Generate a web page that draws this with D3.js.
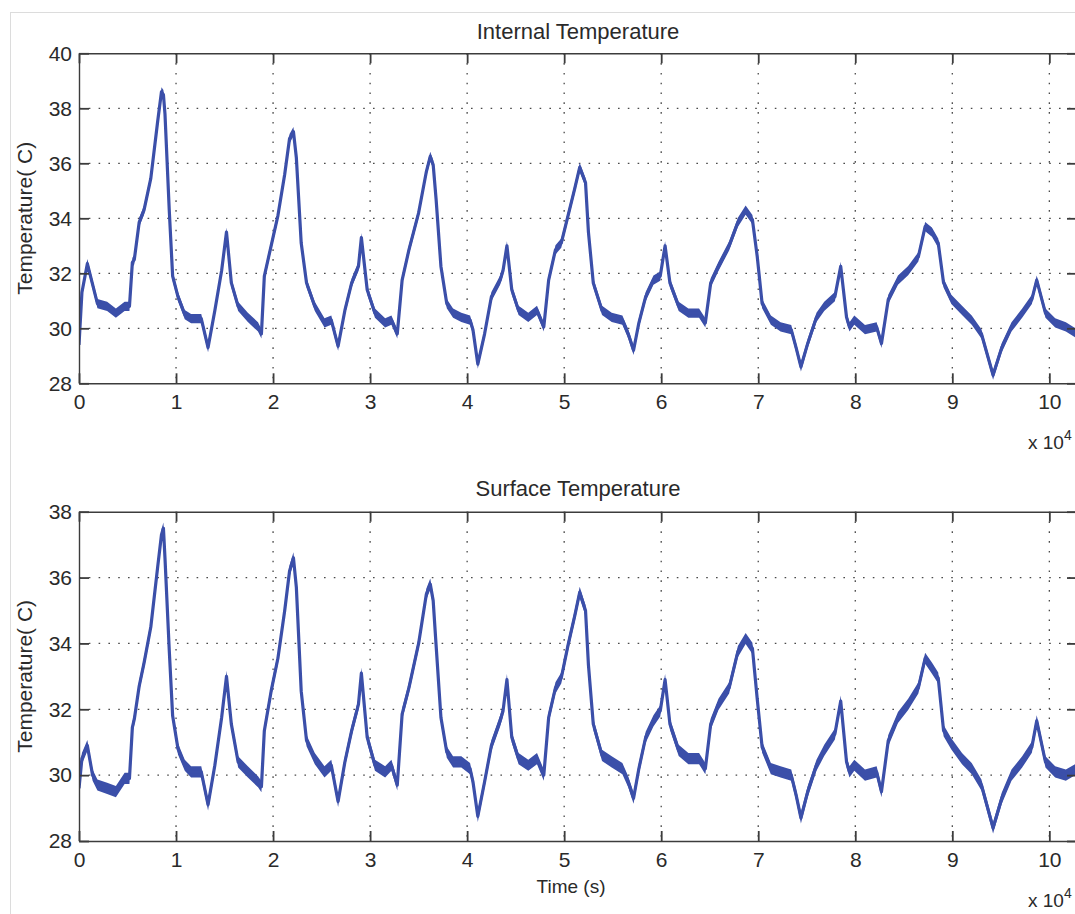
<!DOCTYPE html>
<html>
<head>
<meta charset="utf-8">
<script src="https://cdn.jsdelivr.net/npm/d3@7"></script>
<style>
  html, body { margin: 0; padding: 0; background: #fff; }
  svg { display: block; }
  text { font-family: "Liberation Sans", Arial, Helvetica, sans-serif; fill: #2a2a2a; }
</style>
</head>
<body>
<svg id="chart" width="1075" height="914"></svg>
<script>
// ---------------- DATA (time in units of 10^4 s, temperature in °C) ----------------
const time = [0.00,0.03,0.086,0.14,0.19,0.29,0.38,0.47,0.52,0.55,0.57,0.62,0.67,0.74,0.81,0.85,0.87,0.886,0.93,0.965,
  1.02,1.09,1.155,1.26,1.33,1.40,1.47,1.52,1.57,1.64,1.74,1.845,1.88,1.91,1.98,2.05,2.12,2.17,2.21,2.24,
  2.29,2.345,2.43,2.53,2.60,2.67,2.74,2.81,2.88,2.91,2.97,3.05,3.155,3.22,3.28,3.33,3.40,3.50,3.58,3.62,
  3.65,3.68,3.73,3.79,3.855,3.94,4.03,4.06,4.11,4.18,4.25,4.34,4.37,4.41,4.46,4.53,4.63,4.72,4.79,4.84,
  4.91,4.97,5.04,5.11,5.16,5.22,5.25,5.30,5.39,5.49,5.60,5.66,5.715,5.77,5.84,5.92,5.99,6.04,6.09,6.18,
  6.28,6.39,6.455,6.51,6.59,6.70,6.79,6.87,6.94,6.99,7.04,7.13,7.23,7.34,7.39,7.44,7.51,7.60,7.68,7.79,
  7.85,7.91,7.94,7.99,8.10,8.22,8.27,8.34,8.44,8.545,8.65,8.72,8.79,8.855,8.91,8.99,9.10,9.20,9.30,9.42,
  9.51,9.61,9.72,9.82,9.87,9.96,10.06,10.17,10.285];

const internalTemp = [29.4,31.3,32.35,31.6,30.9,30.8,30.55,30.8,30.8,32.4,32.5,33.85,34.3,35.45,37.5,38.6,38.5,37.8,34.3,31.9,
  31.15,30.5,30.35,30.35,29.3,30.65,32.1,33.5,31.65,30.8,30.4,30.05,29.8,31.9,33.0,34.1,35.6,36.9,37.15,36.2,
  33.1,31.65,30.8,30.2,30.3,29.35,30.65,31.65,32.25,33.3,31.4,30.55,30.2,30.3,29.8,31.75,32.85,34.2,35.7,36.25,
  35.95,34.7,32.25,30.9,30.55,30.4,30.3,29.95,28.7,29.8,31.15,31.75,32.1,33.0,31.4,30.65,30.4,30.65,30.05,31.75,
  32.85,33.1,34.1,35.1,35.85,35.3,33.5,31.65,30.65,30.4,30.3,29.8,29.2,30.2,31.15,31.75,31.9,33.0,31.65,30.8,
  30.55,30.55,30.2,31.65,32.25,33.0,33.85,34.3,33.95,32.6,30.9,30.3,30.05,29.95,29.3,28.6,29.45,30.4,30.8,31.15,
  32.25,30.4,30.05,30.3,29.95,30.05,29.45,31.05,31.75,32.1,32.6,33.7,33.5,33.1,31.65,31.05,30.65,30.3,29.8,28.3,
  29.3,30.05,30.55,31.05,31.75,30.55,30.2,30.05,29.8];

const surfaceTemp = [29.6,30.5,30.9,30.0,29.7,29.6,29.5,29.9,29.9,31.45,31.7,32.7,33.4,34.5,36.3,37.3,37.5,36.6,33.8,31.8,
  30.8,30.3,30.1,30.1,29.1,30.3,31.75,33.0,31.55,30.4,30.1,29.8,29.65,31.35,32.55,33.55,35.0,36.2,36.6,35.7,
  32.55,31.05,30.5,30.1,30.3,29.2,30.4,31.35,32.15,33.1,31.15,30.3,30.1,30.3,29.7,31.85,32.65,34.0,35.5,35.8,
  35.3,33.95,31.75,30.7,30.4,30.4,30.2,29.8,28.75,29.8,30.9,31.65,31.95,32.9,31.15,30.5,30.3,30.5,30.0,31.75,
  32.65,32.95,33.95,34.85,35.55,35.0,33.35,31.55,30.6,30.4,30.2,29.8,29.3,30.2,31.15,31.65,31.95,32.9,31.55,30.75,
  30.5,30.5,30.2,31.55,32.15,32.65,33.75,34.15,33.85,32.3,30.85,30.2,30.1,30.0,29.4,28.7,29.5,30.3,30.75,31.25,
  32.25,30.4,30.1,30.3,30.0,30.1,29.5,31.05,31.75,32.15,32.65,33.55,33.25,32.95,31.35,30.95,30.5,30.2,29.7,28.4,
  29.3,30.0,30.4,30.85,31.65,30.4,30.1,30.0,30.2];

const xTickLabels = [0,1,2,3,4,5,6,7,8,9,10];
const internalYTicks = [28,30,32,34,36,38,40];
const surfaceYTicks = [28,30,32,34,36,38];
const titles = ["Internal Temperature", "Surface  Temperature"];
const yLabel = "Temperature( C)";
const xLabel = "Time (s)";
const xMax = 10.285;

// ---------------- LAYOUT ----------------
const svg = d3.select("#chart");
const lineColor = "#3b4fa9";
const axisColor = "#3c3c3c";
const left = 79, right = 1077;

// light frame
svg.append("rect").attr("x", 10.5).attr("y", 12.5).attr("width", 1100).attr("height", 1000)
  .attr("fill", "none").attr("stroke", "#dcdcdc").attr("stroke-width", 1);

const panels = [
  { title: titles[0], values: internalTemp, yDomain: [28, 40], yTicks: internalYTicks, top: 53.3, bottom: 383.3, titleY: 39, xlab: false },
  { title: titles[1], values: surfaceTemp, yDomain: [28, 38], yTicks: surfaceYTicks, top: 511.7, bottom: 841, titleY: 496, xlab: true }
];

const x = d3.scaleLinear().domain([0, xMax]).range([left, right]);

panels.forEach((p, i) => {
  const y = d3.scaleLinear().domain(p.yDomain).range([p.bottom, p.top]);
  const g = svg.append("g");

  // grid
  const gx = xTickLabels.filter(v => v > 0 && v < xMax);
  const gy = p.yTicks.filter(v => v > p.yDomain[0] && v < p.yDomain[1]);
  g.append("g").selectAll("line").data(gx).join("line")
    .attr("x1", d => x(d)).attr("x2", d => x(d)).attr("y1", p.top).attr("y2", p.bottom)
    .attr("stroke", "#4a4a4a").attr("stroke-width", 1.3).attr("stroke-dasharray", "1.6,8.2");
  g.append("g").selectAll("line").data(gy).join("line")
    .attr("x1", left).attr("x2", right).attr("y1", d => y(d)).attr("y2", d => y(d))
    .attr("stroke", "#4a4a4a").attr("stroke-width", 1.3).attr("stroke-dasharray", "1.6,8.2");

  // data
  const clipId = "clip" + i;
  svg.append("clipPath").attr("id", clipId).append("rect")
    .attr("x", left).attr("y", p.top).attr("width", right - left).attr("height", p.bottom - p.top);
  const pts = time.map((t, k) => [t, p.values[k]]);
  const band = d3.area().x(d => x(d[0])).y0(d => y(d[1] - 0.17)).y1(d => y(d[1] + 0.17));
  const line = d3.line().x(d => x(d[0])).y(d => y(d[1]));
  const dg = g.append("g").attr("clip-path", `url(#${clipId})`);
  dg.append("path").datum(pts).attr("d", band).attr("fill", lineColor).attr("stroke", "none");
  dg.append("path").datum(pts).attr("d", line).attr("fill", "none")
    .attr("stroke", lineColor).attr("stroke-width", 3.2).attr("stroke-linejoin", "round");

  // axes (MATLAB style: ticks inside on all four sides)
  const styleAxis = sel => {
    sel.select(".domain").attr("stroke", axisColor).attr("stroke-width", 1.4);
    sel.selectAll(".tick line").attr("stroke", axisColor).attr("stroke-width", 1.8);
    sel.selectAll(".tick text").attr("fill", "#2a2a2a").style("font-size", "21px")
      .style("font-family", '"Liberation Sans", Arial, sans-serif');
  };
  g.append("g").attr("transform", `translate(0,${p.bottom})`)
    .call(d3.axisBottom(x).tickValues(xTickLabels).tickSize(-10).tickPadding(11).tickSizeOuter(0).tickFormat(d3.format("d")))
    .call(styleAxis);
  g.append("g").attr("transform", `translate(0,${p.top})`)
    .call(d3.axisTop(x).tickValues(xTickLabels).tickSize(-10).tickSizeOuter(0).tickFormat(""))
    .call(styleAxis);
  g.append("g").attr("transform", `translate(${left},0)`)
    .call(d3.axisLeft(y).tickValues(p.yTicks).tickSize(-10).tickPadding(7).tickSizeOuter(0).tickFormat(d3.format("d")))
    .call(styleAxis);
  g.append("g").attr("transform", `translate(${right},0)`)
    .call(d3.axisRight(y).tickValues(p.yTicks).tickSize(-10).tickSizeOuter(0).tickFormat(""))
    .call(styleAxis);

  // title
  svg.append("text").attr("x", (left + right) / 2).attr("y", p.titleY)
    .attr("text-anchor", "middle").style("font-size", "22px").text(p.title);

  // y label
  svg.append("text").attr("transform", `translate(32,${(p.top + p.bottom) / 2}) rotate(-90)`)
    .attr("text-anchor", "middle").style("font-size", "21px").text(yLabel);

  // x 10^4 exponent
  const ex = svg.append("text").attr("x", 1028).attr("y", p.bottom + 66).style("font-size", "19px");
  ex.append("tspan").text("x 10");
  ex.append("tspan").attr("dy", -9).style("font-size", "14px").text("4");

  if (p.xlab) {
    svg.append("text").attr("x", 571).attr("y", p.bottom + 52)
      .attr("text-anchor", "middle").style("font-size", "19px").text(xLabel);
  }
});
</script>
</body>
</html>
